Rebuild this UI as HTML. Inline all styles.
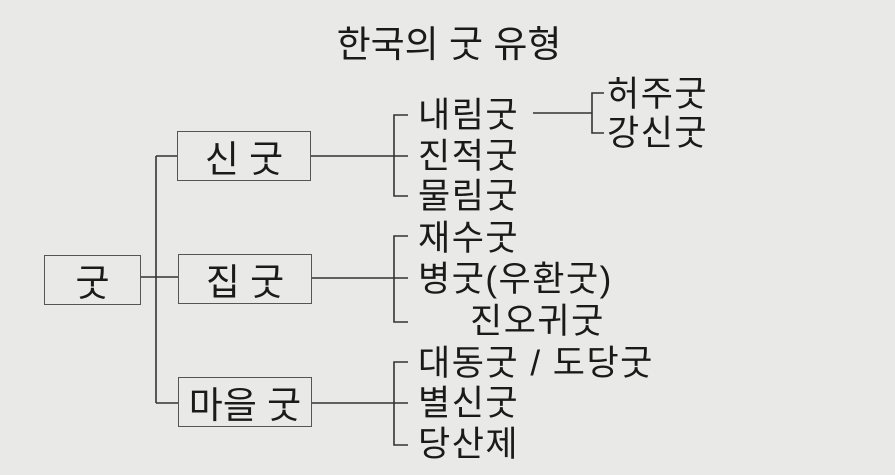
<!DOCTYPE html>
<html><head><meta charset="utf-8"><style>
body{margin:0;width:895px;height:475px;background:#e9eae8;overflow:hidden;font-family:"Liberation Sans","Noto Sans CJK KR",sans-serif;color:#1a1a1a}
.t{position:absolute;font-size:35px;line-height:1;white-space:nowrap;letter-spacing:1.5px}
.b{position:absolute;border:1.5px solid #555;box-sizing:border-box;font-size:37px;display:flex;align-items:center;justify-content:center}
svg{position:absolute;left:0;top:0}
</style></head><body>
<svg width="895" height="475"><g stroke="#333" stroke-width="1.6" fill="none">
<path d="M141 277H178M156 156V403M156 156H177M156 403H178"/>
<path d="M311 156H408M408 115H394V196H408"/>
<path d="M312 278H408M408 236H394V322H408"/>
<path d="M312 403H408M408 362H394V445H408"/>
<path d="M533 113H592M604 93H592V133H604"/>
</g></svg>
<div class="t" style="left:449px;top:26px;transform:translateX(-50%);font-size:37px;letter-spacing:0">한국의 굿 유형</div>
<div class="b" style="left:44px;top:255px;width:97px;height:50px">굿</div>
<div class="b" style="left:177px;top:131px;width:134px;height:50px">신 굿</div>
<div class="b" style="left:178px;top:254px;width:134px;height:50px">집 굿</div>
<div class="b" style="left:178px;top:377px;width:134px;height:50px">마을 굿</div>
<div class="t" style="left:418px;top:98px">내림굿</div>
<div class="t" style="left:418px;top:139px">진적굿</div>
<div class="t" style="left:418px;top:179px">물림굿</div>
<div class="t" style="left:607px;top:77px">허주굿</div>
<div class="t" style="left:607px;top:116px">강신굿</div>
<div class="t" style="left:418px;top:221px">재수굿</div>
<div class="t" style="left:418px;top:262px">병굿(우환굿)</div>
<div class="t" style="left:470px;top:304px">진오귀굿</div>
<div class="t" style="left:418px;top:346px">대동굿 / 도당굿</div>
<div class="t" style="left:418px;top:386px">별신굿</div>
<div class="t" style="left:418px;top:427px">당산제</div>
</body></html>
